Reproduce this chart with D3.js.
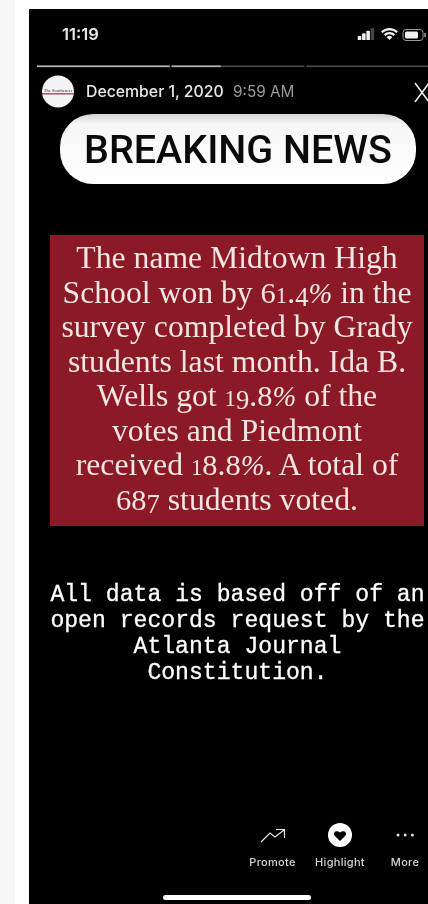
<!DOCTYPE html>
<html>
<head>
<meta charset="utf-8">
<style>
  html, body { margin: 0; padding: 0; background: #fff; overflow: hidden; }
  svg { display: block; filter: blur(0.35px); }
</style>
</head>
<body>
<svg width="428" height="904"></svg>
<script src="https://cdn.jsdelivr.net/npm/d3@7"></script>
<script>
const clock = "11:19";
const storyDate = "December 1, 2020";
const storyTime = "9:59 AM";
const headline = "BREAKING NEWS";
const storyProgress = [1, 0.37, 0];
const signalBars = [1, 2, 3, 4];
const surveyLines = [
  "The name Midtown High",
  "School won by 61.4% in the",
  "survey completed by Grady",
  "students last month. Ida B.",
  "Wells got 19.8% of the",
  "votes and Piedmont",
  "received 18.8%. A total of",
  "687 students voted."
];
const sourceLines = [
  "All data is based off of an",
  "open records request by the",
  "Atlanta Journal",
  "Constitution."
];
const actions = ["Promote", "Highlight", "More"];

const svg = d3.select("svg");
const sans = "Inter, 'Liberation Sans', sans-serif";
const surveySize = 31.7;

// Fondo de pagina y de la historia
svg.append("rect").attr("width", 428).attr("height", 904).attr("fill", "#ffffff");
svg.append("rect").attr("width", 15).attr("height", 904).attr("fill", "#f7f7f7");
svg.append("rect").attr("x", 29).attr("y", 9).attr("width", 399).attr("height", 895).attr("fill", "#000000");

// Barra de estado
svg.append("text").attr("x", 62).attr("y", 40).attr("fill", "#e6e6e6")
  .attr("font-family", sans).attr("font-size", 16.5).attr("font-weight", 600).text(clock);

const signalX = d3.scaleBand().domain(signalBars).range([357, 375]).padding(0.18);
const signalH = d3.scaleLinear().domain([1, 4]).range([4, 12]);
svg.selectAll(".signal").data(signalBars).enter().append("rect")
  .attr("class", "signal")
  .attr("x", d => signalX(d))
  .attr("y", d => 40 - signalH(d))
  .attr("width", signalX.bandwidth())
  .attr("height", d => signalH(d))
  .attr("rx", 0.6)
  .attr("fill", d => d === 4 ? "#444" : "#f0f0f0");

const wifi = svg.append("g").attr("transform", "translate(389.5,40)");
[12, 8, 4].forEach(r => {
  wifi.append("path")
    .attr("d", d3.arc().innerRadius(r === 4 ? 0 : r - 2.2).outerRadius(r)
      .startAngle(-Math.PI / 4).endAngle(Math.PI / 4)())
    .attr("fill", "#f0f0f0");
});
svg.append("rect").attr("x", 403).attr("y", 29.5).attr("width", 20).attr("height", 11).attr("rx", 3)
  .attr("fill", "none").attr("stroke", "#999");
svg.append("rect").attr("x", 405).attr("y", 31.5).attr("width", 13).attr("height", 7).attr("rx", 1.5)
  .attr("fill", "#f2f2f2");
svg.append("rect").attr("x", 424).attr("y", 33).attr("width", 2).attr("height", 4).attr("fill", "#777");

// Barras de progreso de la historia
const segX = d3.scaleBand().domain(d3.range(storyProgress.length)).range([37, 439]).paddingInner(0.015);
const progress = d3.scaleLinear().domain([0, 1]).range([0, segX.bandwidth()]);
svg.selectAll(".seg").data(storyProgress).enter().append("rect")
  .attr("class", "seg")
  .attr("x", (d, i) => segX(i)).attr("y", 65.5)
  .attr("width", segX.bandwidth()).attr("height", 1.6).attr("fill", "#4d4d4d");
svg.selectAll(".seg-on").data(storyProgress).enter().append("rect")
  .attr("class", "seg-on")
  .attr("x", (d, i) => segX(i)).attr("y", 65.5)
  .attr("width", d => progress(d)).attr("height", 1.6).attr("fill", "#b5b5b5");

// Cabecera con avatar, fecha y cierre
svg.append("circle").attr("cx", 58).attr("cy", 91.5).attr("r", 16).attr("fill", "#f4f4f4");
svg.append("rect").attr("x", 42).attr("y", 93).attr("width", 32).attr("height", 1.6).attr("fill", "#a9606c");
svg.append("text").attr("x", 58).attr("y", 92).attr("text-anchor", "middle").attr("fill", "#333")
  .attr("font-family", "'Liberation Serif', serif").attr("font-size", 4.6).text("The Southerner");
svg.append("text").attr("x", 86).attr("y", 97).attr("fill", "#e8e8e8")
  .attr("font-family", sans).attr("font-size", 15.8).attr("font-weight", 500).text(storyDate);
svg.append("text").attr("x", 233).attr("y", 97).attr("fill", "#9a9a9a")
  .attr("font-family", sans).attr("font-size", 15.3).text(storyTime);
svg.append("path").attr("d", "M415 83 L429 102 M429 83 L415 102")
  .attr("stroke", "#e8e8e8").attr("stroke-width", 1.6).attr("fill", "none");

// Pastilla del titular
const pillFill = svg.append("defs").append("linearGradient")
  .attr("id", "pill").attr("x1", 0).attr("x2", 0).attr("y1", 0).attr("y2", 1);
pillFill.append("stop").attr("offset", "0").attr("stop-color", "#d4d4d4");
pillFill.append("stop").attr("offset", "0.14").attr("stop-color", "#f6f6f6");
pillFill.append("stop").attr("offset", "1").attr("stop-color", "#ffffff");
svg.append("rect").attr("x", 60).attr("y", 114).attr("width", 356).attr("height", 70).attr("rx", 33)
  .attr("fill", "url(#pill)");
svg.append("text").attr("x", 238).attr("y", 163).attr("text-anchor", "middle").attr("fill", "#0a0a0a")
  .attr("font-family", "Roboto, sans-serif").attr("font-size", 39).attr("font-weight", 500)
  .attr("textLength", 308).attr("lengthAdjust", "spacingAndGlyphs").text(headline);

// Recuadro rojo con el resultado de la encuesta
svg.append("rect").attr("x", 50).attr("y", 235).attr("width", 374).attr("height", 291).attr("fill", "#8b1a26");
const surveyY = d3.scalePoint().domain(d3.range(surveyLines.length)).range([268, 510]);
const surveyText = svg.selectAll(".survey").data(surveyLines).enter().append("text")
  .attr("class", "survey")
  .attr("x", 237).attr("y", (d, i) => surveyY(i))
  .attr("text-anchor", "middle").attr("fill", "#f1e6e4")
  .attr("font-family", "'Liberation Serif', serif").attr("font-size", surveySize);

// Cifras de estilo antiguo: la fuente no las trae, se imitan con tspans
const digitStyle = {
  "0": [0.72, 0], "1": [0.72, 0], "2": [0.72, 0],
  "3": [0.84, 0.1], "4": [0.84, 0.1], "5": [0.84, 0.1], "7": [0.84, 0.1], "9": [0.84, 0.1],
  "6": [0.96, 0], "8": [0.96, 0]
};
surveyText.each(function (line) {
  const t = d3.select(this);
  let shift = 0;
  Array.from(line).forEach(ch => {
    const span = t.append("tspan").text(ch);
    let drop = 0;
    if (digitStyle[ch]) {
      span.attr("font-size", surveySize * digitStyle[ch][0]);
      drop = surveySize * digitStyle[ch][1];
    } else if (ch === "%") {
      span.attr("font-style", "italic").attr("font-size", surveySize * 0.9);
    }
    if (drop !== shift) {
      span.attr("dy", drop - shift);
      shift = drop;
    }
  });
});

// Nota de la fuente
const sourceY = d3.scalePoint().domain(d3.range(sourceLines.length)).range([601, 679]);
svg.selectAll(".source").data(sourceLines).enter().append("text")
  .attr("class", "source")
  .attr("x", 237.5).attr("y", (d, i) => sourceY(i))
  .attr("text-anchor", "middle").attr("fill", "#ffffff").attr("stroke", "#ffffff").attr("stroke-width", 0.3)
  .attr("font-family", "'Liberation Mono', monospace").attr("font-size", 23.1)
  .text(d => d);

// Acciones inferiores
const actionX = d3.scaleOrdinal().domain(actions).range([272.5, 340, 405]);
svg.selectAll(".action").data(actions).enter().append("text")
  .attr("class", "action")
  .attr("x", d => actionX(d)).attr("y", 866)
  .attr("text-anchor", "middle").attr("fill", "#d4d4d4")
  .attr("font-family", sans).attr("font-size", 11).attr("font-weight", 500).attr("letter-spacing", 0.3)
  .text(d => d);

svg.append("path").attr("d", "M261 842 L270 833 L275 837 L284 830 M276 829.5 L284.5 829.5 L284.5 838")
  .attr("fill", "none").attr("stroke", "#e8e8e8").attr("stroke-width", 1.2);
svg.append("circle").attr("cx", 340).attr("cy", 835).attr("r", 12).attr("fill", "#ffffff");
svg.append("path").attr("d", "M340 841 L334.5 835.5 C332.5 832.5 336.5 829.5 340 832.5 C343.5 829.5 347.5 832.5 345.5 835.5 Z")
  .attr("fill", "#000000");
svg.selectAll(".dot").data(d3.range(3)).enter().append("circle")
  .attr("class", "dot")
  .attr("cx", d => 398 + d * 7.2).attr("cy", 835).attr("r", 1.5).attr("fill", "#dddddd");

// Indicador de inicio
svg.append("rect").attr("x", 163).attr("y", 895).attr("width", 148).attr("height", 5).attr("rx", 2.5).attr("fill", "#ffffff");
</script>
</body>
</html>
